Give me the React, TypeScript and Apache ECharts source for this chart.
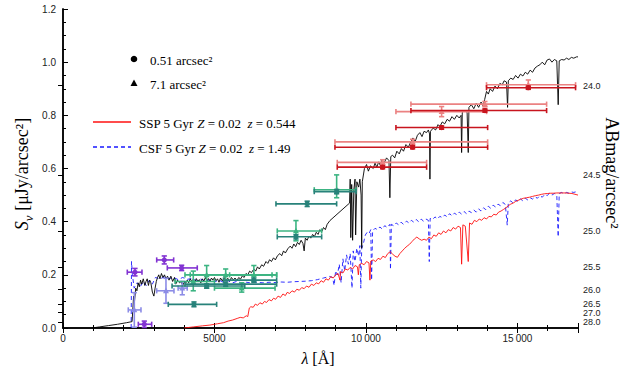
import React, { useEffect, useRef } from "react";
import * as echarts from "echarts";

// ---- Spectra [wavelength Å, S_nu μJy/arcsec²] ----
const BLACK_SPEC: [number, number][] = [
  [950, 0.0], [1200, 0.004], [1500, 0.009], [1800, 0.014], [2100, 0.02], [2280, 0.024],
  [2300, 0.06], [2330, 0.12], [2360, 0.1], [2400, 0.15], [2440, 0.14], [2480, 0.17], [2520, 0.155],
  [2560, 0.18], [2600, 0.165], [2650, 0.185], [2700, 0.16], [2740, 0.175], [2780, 0.185], [2820, 0.16],
  [2860, 0.18], [2900, 0.17], [2950, 0.135], [3000, 0.12], [3040, 0.15], [3080, 0.175], [3120, 0.19],
  [3160, 0.2], [3200, 0.185], [3250, 0.205], [3300, 0.19], [3350, 0.2], [3400, 0.185], [3450, 0.195],
  [3500, 0.18], [3560, 0.195], [3620, 0.175], [3680, 0.19], [3720, 0.165], [3780, 0.18], [3850, 0.17],
  [3900, 0.175], [3950, 0.16], [4000, 0.172], [4050, 0.168], [4100, 0.18], [4150, 0.17], [4200, 0.185],
  [4250, 0.175], [4300, 0.183], [4350, 0.172], [4400, 0.186], [4450, 0.175], [4500, 0.182], [4550, 0.17],
  [4600, 0.185], [4650, 0.176], [4700, 0.19], [4750, 0.178], [4800, 0.186], [4850, 0.174], [4900, 0.188],
  [4950, 0.18], [5000, 0.19], [5050, 0.178], [5100, 0.185], [5150, 0.172], [5200, 0.188], [5260, 0.177],
  [5320, 0.19], [5380, 0.18], [5440, 0.187], [5500, 0.176], [5560, 0.19], [5620, 0.181], [5680, 0.188],
  [5740, 0.178], [5800, 0.19], [5860, 0.184], [5920, 0.196], [5980, 0.19], [6040, 0.205], [6100, 0.2],
  [6160, 0.214], [6220, 0.208], [6300, 0.222], [6360, 0.214], [6420, 0.23], [6480, 0.222], [6560, 0.238],
  [6620, 0.232], [6700, 0.25], [6760, 0.243], [6820, 0.257], [6880, 0.25], [6950, 0.264], [7010, 0.256],
  [7080, 0.272], [7160, 0.28], [7220, 0.272], [7280, 0.29], [7340, 0.282], [7420, 0.298], [7500, 0.308],
  [7560, 0.3], [7620, 0.316], [7680, 0.306], [7740, 0.322], [7800, 0.314], [7860, 0.33], [7920, 0.318],
  [7960, 0.29], [8000, 0.338], [8060, 0.33], [8120, 0.346], [8180, 0.338], [8240, 0.352], [8300, 0.344],
  [8360, 0.36], [8420, 0.352], [8480, 0.37], [8540, 0.362], [8600, 0.378], [8660, 0.37], [8720, 0.39],
  [8810, 0.404], [9460, 0.47], [9480, 0.56], [9500, 0.34], [9530, 0.54], [9560, 0.33], [9600, 0.52],
  [9640, 0.56], [9660, 0.35], [9700, 0.55], [9760, 0.53], [9800, 0.56], [9840, 0.5], [9860, 0.3],
  [9880, 0.55], [9950, 0.6], [10020, 0.615], [10080, 0.59], [10150, 0.61], [10240, 0.6], [10300, 0.62],
  [10360, 0.605], [10420, 0.625], [10480, 0.61], [10520, 0.63], [10600, 0.62], [10680, 0.64],
  [10760, 0.63], [10790, 0.49], [10820, 0.645], [10880, 0.65], [10950, 0.64], [11020, 0.665],
  [11100, 0.655], [11170, 0.675], [11240, 0.665], [11320, 0.69], [11400, 0.68], [11480, 0.7],
  [11550, 0.715], [11620, 0.7], [11700, 0.725], [11780, 0.735], [11850, 0.72], [11920, 0.74],
  [12000, 0.735], [12060, 0.745], [12100, 0.73], [12112, 0.56], [12130, 0.74], [12220, 0.752],
  [12300, 0.745], [12380, 0.765], [12440, 0.758], [12520, 0.775], [12600, 0.768], [12680, 0.785],
  [12760, 0.778], [12840, 0.795], [12920, 0.785], [13000, 0.8], [13080, 0.79], [13140, 0.8],
  [13158, 0.66], [13180, 0.81], [13260, 0.82], [13340, 0.81], [13377, 0.66], [13400, 0.83],
  [13480, 0.84], [13560, 0.825], [13640, 0.845], [13720, 0.83], [13800, 0.85], [13870, 0.835],
  [13920, 0.86], [13980, 0.89], [14040, 0.88], [14100, 0.9], [14180, 0.89], [14260, 0.91], [14340, 0.9],
  [14420, 0.92], [14500, 0.915], [14560, 0.93], [14640, 0.925], [14675, 0.83], [14700, 0.93],
  [14780, 0.94], [14860, 0.935], [14940, 0.95], [15020, 0.94], [15100, 0.955], [15180, 0.948],
  [15260, 0.962], [15340, 0.955], [15420, 0.97], [15500, 0.962], [15580, 0.978], [15660, 0.985],
  [15740, 0.99], [15820, 1.0], [15900, 0.99], [15980, 1.008], [16060, 1.012], [16140, 1.0],
  [16220, 1.01], [16300, 1.005], [16346, 0.84], [16380, 1.005], [16460, 1.01], [16540, 1.008],
  [16620, 1.015], [16700, 1.01], [16780, 1.018], [16860, 1.015], [16953, 1.02], [17000, 1.02],
];

const SSP_SPEC: [number, number][] = [
  [4000, 0.0], [4300, 0.004], [4600, 0.008], [4850, 0.011], [5100, 0.016], [5300, 0.02], [5450, 0.026],
  [5600, 0.03], [5750, 0.036], [5850, 0.04], [5950, 0.038], [6050, 0.046], [6100, 0.043], [6150, 0.075],
  [6200, 0.08], [6280, 0.078], [6350, 0.09], [6420, 0.085], [6500, 0.095], [6580, 0.09], [6650, 0.1],
  [6720, 0.096], [6800, 0.107], [6880, 0.102], [6950, 0.112], [7020, 0.108], [7100, 0.12], [7180, 0.115],
  [7260, 0.128], [7340, 0.122], [7400, 0.134], [7480, 0.13], [7560, 0.14], [7640, 0.135], [7720, 0.146],
  [7800, 0.142], [7880, 0.152], [7960, 0.148], [8040, 0.158], [8120, 0.153], [8200, 0.165], [8280, 0.16],
  [8360, 0.17], [8440, 0.166], [8520, 0.178], [8600, 0.172], [8680, 0.185], [8760, 0.18], [8840, 0.193],
  [8920, 0.188], [9000, 0.2], [9080, 0.205], [9142, 0.18], [9160, 0.212], [9240, 0.207], [9320, 0.222],
  [9400, 0.218], [9480, 0.228], [9560, 0.222], [9640, 0.235], [9720, 0.23], [9750, 0.2], [9780, 0.238],
  [9860, 0.243], [9940, 0.238], [10020, 0.25], [10100, 0.245], [10132, 0.18], [10160, 0.252],
  [10240, 0.256], [10320, 0.25], [10400, 0.262], [10480, 0.258], [10560, 0.27], [10640, 0.265],
  [10720, 0.28], [10800, 0.287], [10880, 0.278], [10960, 0.27], [11040, 0.266], [11120, 0.28],
  [11200, 0.29], [11280, 0.3], [11360, 0.308], [11440, 0.315], [11520, 0.325], [11600, 0.335],
  [11680, 0.342], [11760, 0.335], [11840, 0.33], [11920, 0.334], [12000, 0.33], [12080, 0.342],
  [12160, 0.336], [12240, 0.35], [12320, 0.345], [12400, 0.358], [12480, 0.352], [12560, 0.365],
  [12640, 0.358], [12720, 0.37], [12800, 0.365], [12880, 0.378], [12960, 0.372], [13040, 0.383],
  [13120, 0.378], [13158, 0.24], [13200, 0.388], [13280, 0.383], [13377, 0.25], [13420, 0.395],
  [13500, 0.39], [13580, 0.405], [13660, 0.4], [13740, 0.41], [13820, 0.405], [13900, 0.415],
  [13980, 0.41], [14060, 0.42], [14140, 0.418], [14220, 0.428], [14300, 0.425], [14380, 0.436],
  [14460, 0.44], [14540, 0.446], [14620, 0.452], [14700, 0.46], [14780, 0.466], [14860, 0.47],
  [14940, 0.476], [15020, 0.48], [15100, 0.484], [15200, 0.488], [15300, 0.49], [15400, 0.492],
  [15500, 0.495], [15600, 0.498], [15700, 0.5], [15800, 0.503], [15900, 0.505], [16000, 0.506],
  [16100, 0.507], [16200, 0.507], [16300, 0.508], [16400, 0.508], [16500, 0.508], [16600, 0.508],
  [16700, 0.507], [16800, 0.506], [16900, 0.503], [17000, 0.5],
];

const CSF_SPEC: [number, number][] = [
  [2250, 0.0], [2262, 0.25], [2290, 0.2], [2350, 0.15], [2450, 0.17], [2550, 0.155], [2650, 0.175], [2750, 0.16],
  [2850, 0.18], [2950, 0.165], [3050, 0.19], [3200, 0.185], [3350, 0.192], [3500, 0.186], [3650, 0.19],
  [3800, 0.182], [3950, 0.19], [4100, 0.183], [4250, 0.186], [4400, 0.178], [4550, 0.184], [4700, 0.176],
  [4850, 0.182], [5000, 0.174], [5150, 0.18], [5300, 0.172], [5450, 0.178], [5600, 0.17], [5750, 0.176],
  [5900, 0.168], [6050, 0.172], [6200, 0.17], [6400, 0.172], [6600, 0.17], [6800, 0.172], [7000, 0.171],
  [7200, 0.173], [7400, 0.172], [7600, 0.174], [7800, 0.175], [8000, 0.176], [8200, 0.178], [8400, 0.182],
  [8600, 0.188], [8800, 0.194], [8900, 0.19], [8950, 0.16], [9000, 0.215], [9060, 0.2], [9120, 0.24],
  [9180, 0.17], [9240, 0.26], [9300, 0.215], [9360, 0.275], [9420, 0.24], [9480, 0.28], [9540, 0.15],
  [9580, 0.29], [9640, 0.25], [9700, 0.3], [9760, 0.27], [9800, 0.31], [9830, 0.15], [9860, 0.3],
  [9920, 0.32], [9980, 0.35], [10040, 0.36], [10100, 0.355], [10160, 0.37], [10187, 0.18], [10220, 0.365],
  [10300, 0.375], [10380, 0.37], [10460, 0.38], [10540, 0.372], [10620, 0.385], [10700, 0.378],
  [10792, 0.39], [10810, 0.22], [10840, 0.39], [10920, 0.384], [11000, 0.395], [11080, 0.388],
  [11160, 0.398], [11240, 0.39], [11340, 0.402], [11420, 0.395], [11500, 0.405], [11580, 0.398],
  [11660, 0.408], [11740, 0.4], [11820, 0.41], [11900, 0.402], [11980, 0.41], [12060, 0.405],
  [12091, 0.25], [12120, 0.412], [12200, 0.408], [12280, 0.418], [12360, 0.41], [12440, 0.42],
  [12520, 0.415], [12600, 0.425], [12680, 0.418], [12760, 0.43], [12840, 0.422], [12920, 0.432],
  [13000, 0.426], [13080, 0.436], [13160, 0.428], [13240, 0.438], [13320, 0.43], [13400, 0.44],
  [13480, 0.434], [13560, 0.444], [13640, 0.436], [13720, 0.448], [13800, 0.44], [13880, 0.452],
  [13960, 0.445], [14040, 0.458], [14120, 0.45], [14200, 0.462], [14280, 0.455], [14360, 0.466],
  [14440, 0.46], [14520, 0.472], [14600, 0.465], [14664, 0.387], [14700, 0.472], [14780, 0.478],
  [14860, 0.47], [14940, 0.482], [15020, 0.476], [15100, 0.486], [15180, 0.478], [15260, 0.488],
  [15340, 0.482], [15420, 0.49], [15500, 0.485], [15580, 0.494], [15660, 0.488], [15740, 0.498],
  [15820, 0.492], [15900, 0.502], [15980, 0.498], [16060, 0.507], [16140, 0.5], [16220, 0.506],
  [16300, 0.5], [16346, 0.343], [16380, 0.506], [16460, 0.51], [16540, 0.505], [16620, 0.51],
  [16700, 0.507], [16780, 0.512], [16860, 0.51], [16953, 0.513], [17000, 0.513],
];

// ---- Photometry [λ, S, λlo, λhi, Slo, Shi] ----
const UV_SMALL: number[][] = [
  [2376, 0.21, 2122, 2607, 0.196, 0.224],
  [3343, 0.256, 3093, 3653, 0.241, 0.271],
  [3917, 0.226, 3443, 4432, 0.216, 0.236],
  [2684, 0.014, 2486, 2927, 0.002, 0.026],
];
const UV_LARGE: number[][] = [
  [2354, 0.068, 2155, 2574, 0.003, 0.133],
  [3399, 0.14, 3092, 3663, 0.093, 0.187],
  [3937, 0.15, 3800, 4100, 0.125, 0.175],
];
const OPT_LARGE: number[][] = [
  [4300, 0.175, 3700, 5000, 0.14, 0.214],
  [4742, 0.2, 4026, 7053, 0.15, 0.235],
  [5370, 0.2, 4200, 6900, 0.18, 0.222],
  [5900, 0.15, 5000, 7000, 0.135, 0.17],
  [6300, 0.2, 5500, 7053, 0.175, 0.235],
  [7690, 0.365, 7073, 8538, 0.328, 0.404],
  [9033, 0.52, 8294, 9670, 0.49, 0.576],
];
const OPT_SMALL: number[][] = [
  [4323, 0.089, 3475, 5072, 0.08, 0.098],
  [4742, 0.158, 3600, 6000, 0.15, 0.166],
  [5370, 0.165, 4026, 7053, 0.157, 0.173],
  [6300, 0.18, 5300, 7053, 0.172, 0.188],
  [7690, 0.343, 7073, 8538, 0.335, 0.351],
  [8060, 0.467, 7030, 9033, 0.457, 0.477],
  [9033, 0.513, 8294, 9670, 0.505, 0.521],
];
const IR_LARGE: number[][] = [
  [15360, 0.915, 13980, 16920, 0.9, 0.933],
  [13927, 0.842, 11485, 15964, 0.832, 0.852],
  [12498, 0.814, 10990, 13983, 0.795, 0.833],
  [11541, 0.7, 8977, 14017, 0.69, 0.71],
  [10551, 0.623, 9053, 12003, 0.613, 0.633],
];
const IR_SMALL: number[][] = [
  [15360, 0.904, 13980, 16920, 0.898, 0.91],
  [13927, 0.818, 11485, 15964, 0.812, 0.824],
  [12498, 0.754, 10990, 14017, 0.748, 0.76],
  [11541, 0.68, 8977, 14017, 0.674, 0.686],
  [10551, 0.605, 9053, 12003, 0.599, 0.611],
];

// ---- Axis ticks ----
const X_TICK_INTERVAL = 5000;
const Y_TICK_INTERVAL = 0.2;
const AB_MAG_TICKS = [24.0, 24.5, 25.0, 25.5, 26.0, 26.5, 27.0, 28.0];
const AB_ZERO = 23.9; // μJy zero point
const AB_TICK_FLUX = AB_MAG_TICKS.map((m) => Math.pow(10, (AB_ZERO - m) / 2.5));

const SERIF = "'Liberation Serif', 'DejaVu Serif', serif";
const SANS = "'Liberation Sans', Arial, sans-serif";

function errSeries(data: number[][], color: string, marker: "circle" | "triangle") {
  return {
    type: "custom",
    xAxisIndex: 0,
    yAxisIndex: 0,
    data,
    z: 5,
    encode: { x: [0, 2, 3], y: [1, 4, 5] },
    renderItem: (_p: any, api: any) => {
      const c = api.coord([api.value(0), api.value(1)]);
      const xl = api.coord([api.value(2), api.value(1)])[0];
      const xh = api.coord([api.value(3), api.value(1)])[0];
      const yl = api.coord([api.value(0), api.value(4)])[1];
      const yh = api.coord([api.value(0), api.value(5)])[1];
      const st = { stroke: color, lineWidth: 1.6 };
      const cap = 2.6;
      const children: any[] = [
        { type: "line", shape: { x1: xl, y1: c[1], x2: xh, y2: c[1] }, style: st },
        { type: "line", shape: { x1: xl, y1: c[1] - cap, x2: xl, y2: c[1] + cap }, style: st },
        { type: "line", shape: { x1: xh, y1: c[1] - cap, x2: xh, y2: c[1] + cap }, style: st },
        { type: "line", shape: { x1: c[0], y1: yl, x2: c[0], y2: yh }, style: st },
        { type: "line", shape: { x1: c[0] - cap, y1: yl, x2: c[0] + cap, y2: yl }, style: st },
        { type: "line", shape: { x1: c[0] - cap, y1: yh, x2: c[0] + cap, y2: yh }, style: st },
      ];
      if (marker === "circle") {
        children.push({ type: "circle", shape: { cx: c[0], cy: c[1], r: 2.6 }, style: { fill: color } });
      } else {
        children.push({
          type: "polygon",
          shape: { points: [[c[0], c[1] - 3.2], [c[0] - 3, c[1] + 2.4], [c[0] + 3, c[1] + 2.4]] },
          style: { fill: color },
        });
      }
      return { type: "group", children };
    },
  };
}

export default function App() {
  const ref = useRef<HTMLDivElement>(null);
  useEffect(() => {
    document.body.style.margin = "0";
    if (!ref.current) return;
    const chart = echarts.init(ref.current, undefined, { renderer: "svg" });
    const axisLine = { show: true, lineStyle: { color: "#000", width: 1.5 } };
    const xFmt = (v: number) =>
      v >= 10000 ? `${Math.floor(v / 1000)}\u2009${String(v % 1000).padStart(3, "0")}` : String(v);
    chart.setOption({
      animation: false,
      backgroundColor: "#fff",
      grid: { left: 63, top: 9, right: 54, bottom: 46 },
      xAxis: [
        {
          type: "value", min: 0, max: 17000, interval: X_TICK_INTERVAL, position: "bottom",
          axisLine, splitLine: { show: false },
          axisTick: { inside: true, length: 5, lineStyle: { color: "#000", width: 1 } },
          minorTick: { show: true, splitNumber: 5, length: 3, lineStyle: { color: "#000", width: 1 } },
          axisLabel: {
            formatter: xFmt, color: "#222", fontFamily: SANS, fontSize: 10, margin: 5,
            showMaxLabel: false,
          },
        },
        {
          type: "value", min: 0, max: 17000, interval: X_TICK_INTERVAL, position: "top",
          axisLine, splitLine: { show: false },
          axisTick: { inside: true, length: 5, lineStyle: { color: "#000", width: 1 } },
          minorTick: { show: true, splitNumber: 5, length: 3, lineStyle: { color: "#000", width: 1 } },
          axisLabel: { show: false },
        },
      ],
      yAxis: [
        {
          type: "value", min: 0, max: 1.2, interval: Y_TICK_INTERVAL, position: "left",
          axisLine, splitLine: { show: false },
          axisTick: { inside: true, length: 5, lineStyle: { color: "#000", width: 1 } },
          minorTick: { show: true, splitNumber: 4, length: 3, lineStyle: { color: "#000", width: 1 } },
          axisLabel: { formatter: (v: number) => v.toFixed(1), color: "#222", fontFamily: SANS, fontSize: 10, margin: 7 },
        },
        {
          type: "value", min: 0, max: 1.2, position: "right",
          axisLine, splitLine: { show: false },
          axisTick: { inside: true, length: 5, customValues: AB_TICK_FLUX, lineStyle: { color: "#000", width: 1 } },
          axisLabel: {
            customValues: AB_TICK_FLUX,
            hideOverlap: false,
            showMinLabel: true,
            showMaxLabel: true,
            formatter: (v: number) => (AB_ZERO - 2.5 * Math.log10(v)).toFixed(1),
            color: "#222", fontFamily: SANS, fontSize: 9, lineHeight: 9, margin: 5,
          },
        },
      ],
      series: [
        {
          type: "line", data: BLACK_SPEC, showSymbol: false, xAxisIndex: 0, yAxisIndex: 0,
          lineStyle: { color: "#000", width: 0.9 }, z: 3,
        },
        {
          type: "line", data: CSF_SPEC, showSymbol: false, xAxisIndex: 0, yAxisIndex: 0,
          lineStyle: { color: "#1a1aff", width: 0.9, type: [4, 3] }, z: 2,
        },
        {
          type: "line", data: SSP_SPEC, showSymbol: false, xAxisIndex: 0, yAxisIndex: 0,
          lineStyle: { color: "#ff1010", width: 0.9 }, z: 2,
        },
        errSeries(UV_LARGE, "#8c8ce6", "triangle"),
        errSeries(UV_SMALL, "#8233d2", "circle"),
        errSeries(OPT_LARGE, "#3cb482", "triangle"),
        errSeries(OPT_SMALL, "#28827a", "circle"),
        errSeries(IR_LARGE, "#eb8282", "triangle"),
        errSeries(IR_SMALL, "#c8141e", "circle"),
      ],
      graphic: [
        { type: "circle", shape: { cx: 134, cy: 59, r: 3.3 }, style: { fill: "#000" } },
        {
          type: "text", x: 150, y: 60,
          style: { text: "0.51 arcsec²", font: `13px ${SERIF}`, fill: "#000", verticalAlign: "middle" },
        },
        { type: "polygon", shape: { points: [[134, 79.5], [130.5, 86], [137.5, 86]] }, style: { fill: "#000" } },
        {
          type: "text", x: 150, y: 84,
          style: { text: "7.1 arcsec²", font: `13px ${SERIF}`, fill: "#000", verticalAlign: "middle" },
        },
        { type: "line", shape: { x1: 93, y1: 122, x2: 131, y2: 122 }, style: { stroke: "#ff1010", lineWidth: 1.3 } },
        {
          type: "text", x: 139, y: 123,
          style: {
            text: "SSP 5 Gyr {i|Z} = 0.02  {i|z} = 0.544",
            font: `13px ${SERIF}`, fill: "#000", verticalAlign: "middle",
            rich: { i: { fontStyle: "italic", fontFamily: SERIF, fontSize: 13 } },
          },
        },
        {
          type: "line", shape: { x1: 93, y1: 147, x2: 131, y2: 147 },
          style: { stroke: "#1a1aff", lineWidth: 1.3, lineDash: [4, 3] },
        },
        {
          type: "text", x: 139, y: 148,
          style: {
            text: "CSF 5 Gyr {i|Z} = 0.02  {i|z} = 1.49",
            font: `13px ${SERIF}`, fill: "#000", verticalAlign: "middle",
            rich: { i: { fontStyle: "italic", fontFamily: SERIF, fontSize: 13 } },
          },
        },
        {
          type: "text", x: 22, y: 174, rotation: Math.PI / 2,
          style: {
            text: "{i|S}{s|ν} [μJy/arcsec²]",
            font: `18px ${SERIF}`, fill: "#000", align: "center", verticalAlign: "middle",
            rich: {
              i: { fontStyle: "italic", fontFamily: SERIF, fontSize: 18, lineHeight: 26 },
              s: { fontStyle: "italic", fontFamily: SERIF, fontSize: 13, verticalAlign: "bottom", lineHeight: 26 },
            },
          },
        },
        {
          type: "text", x: 318, y: 358,
          style: {
            text: "{i|λ} [Å]",
            font: `16px ${SERIF}`, fill: "#000", align: "center", verticalAlign: "middle",
            rich: { i: { fontStyle: "italic", fontFamily: SERIF, fontSize: 16 } },
          },
        },
        {
          type: "text", x: 612, y: 173, rotation: -Math.PI / 2,
          style: { text: "ABmag/arcsec²", font: `18px ${SERIF}`, fill: "#000", align: "center", verticalAlign: "middle" },
        },
      ],
    });
    return () => chart.dispose();
  }, []);
  return <div ref={ref} style={{ width: 632, height: 374, position: "absolute", left: 0, top: 0 }} />;
}
